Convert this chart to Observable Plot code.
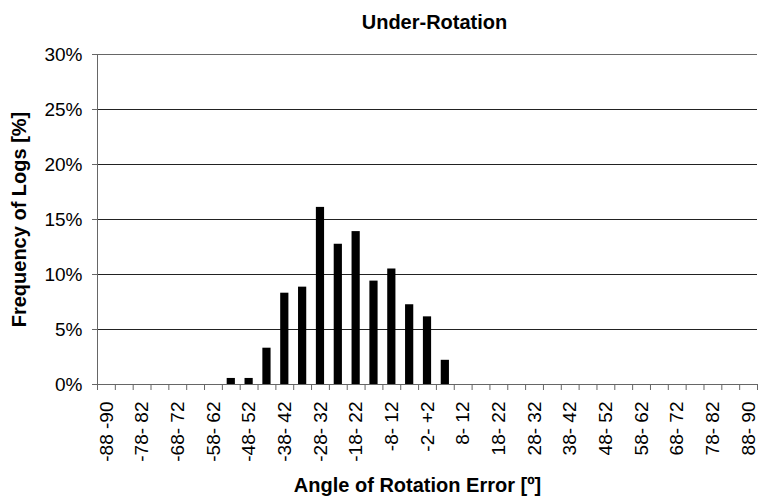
<!DOCTYPE html>
<html>
<head>
<meta charset="utf-8">
<script src="https://cdn.jsdelivr.net/npm/d3@7"></script>
<script src="https://cdn.jsdelivr.net/npm/@observablehq/plot@0.6"></script>
<style>
  html, body { margin: 0; padding: 0; background: #fff; }
  svg { display: block; }
</style>
</head>
<body>
<div id="chart"></div>
<script>
const title = "Under-Rotation";
const xTitle = "Angle of Rotation Error [º]";
const yTitle = "Frequency of Logs [%]";

const categories = [
  "-88 -90", "-83- 87", "-78- 82", "-73- 77", "-68- 72", "-63- 67", "-58- 62", "-53- 57",
  "-48- 52", "-43- 47", "-38- 42", "-33- 37", "-28- 32", "-23- 27", "-18- 22", "-13- 17",
  "-8- 12", "-3- 7", "-2- +2", "3- 7", "8- 12", "13- 17", "18- 22", "23- 27", "28- 32",
  "33- 37", "38- 42", "43- 47", "48- 52", "53- 57", "58- 62", "63- 67", "68- 72", "73- 77",
  "78- 82", "83- 87", "88- 90"
];

const frequency = [
  0, 0, 0, 0, 0, 0, 0, 0.55,
  0.55, 3.3, 8.3, 8.85, 16.1, 12.75, 13.9, 9.4,
  10.5, 7.25, 6.15, 2.2, 0, 0, 0, 0, 0,
  0, 0, 0, 0, 0, 0, 0, 0, 0,
  0, 0, 0
];

const yTicks = [0, 5, 10, 15, 20, 25, 30];

const data = categories.map((c, i) => ({i, category: c, value: frequency[i]}));
const boundaries = d3.range(categories.length + 1);
const labelPositions = categories.map((c, i) => i).filter(i => i % 2 === 0).map(i => i + 0.5);

const font = "'Liberation Sans', Arial, sans-serif";

const chart = Plot.plot({
  width: 760,
  height: 498,
  marginLeft: 97,
  marginRight: 3,
  marginTop: 54,
  marginBottom: 114,
  style: {fontFamily: font, fontSize: "18px", color: "#000", background: "#fff"},
  x: {type: "linear", domain: [0, categories.length], label: null},
  y: {domain: [0, 30], label: null},
  marks: [
    Plot.gridY(yTicks.filter(d => d > 0 && d < 30), {stroke: "#222", strokeOpacity: 1}),
    Plot.ruleY([30], {stroke: "#666"}),
    Plot.rectY(data.filter(d => d.value > 0), {
      x1: d => d.i + 0.27, x2: d => d.i + 0.73, y1: 0, y2: "value", fill: "#000"
    }),
    Plot.ruleY([0], {stroke: "#666"}),
    Plot.ruleX([0], {stroke: "#666"}),
    Plot.axisY({
      ticks: yTicks, tickFormat: d => d + "%", tickSize: 5, tickPadding: 10,
      stroke: "#666", fill: "#000", fontSize: 19, label: null
    }),
    Plot.axisX({
      ticks: boundaries, tickFormat: () => "", tickSize: 6, stroke: "#666", label: null
    }),
    Plot.axisX({
      ticks: labelPositions, tickFormat: d => categories[Math.round(d - 0.5)],
      tickSize: 0, tickPadding: 17, tickRotate: -90, fill: "#000", fontSize: 19, label: null
    }),
    Plot.text([title], {
      frameAnchor: "top", dy: -32, dx: 7, lineAnchor: "middle",
      fontWeight: "bold", fontSize: 20, fill: "#000"
    }),
    Plot.text([yTitle], {
      frameAnchor: "left", dx: -78, rotate: -90, textAnchor: "middle", lineAnchor: "middle",
      fontWeight: "bold", fontSize: 20, fill: "#000"
    }),
    Plot.text([xTitle], {
      frameAnchor: "bottom", dy: 101, dx: -10, lineAnchor: "middle",
      fontWeight: "bold", fontSize: 20, fill: "#000"
    })
  ]
});

document.getElementById("chart").appendChild(chart);
</script>
</body>
</html>
